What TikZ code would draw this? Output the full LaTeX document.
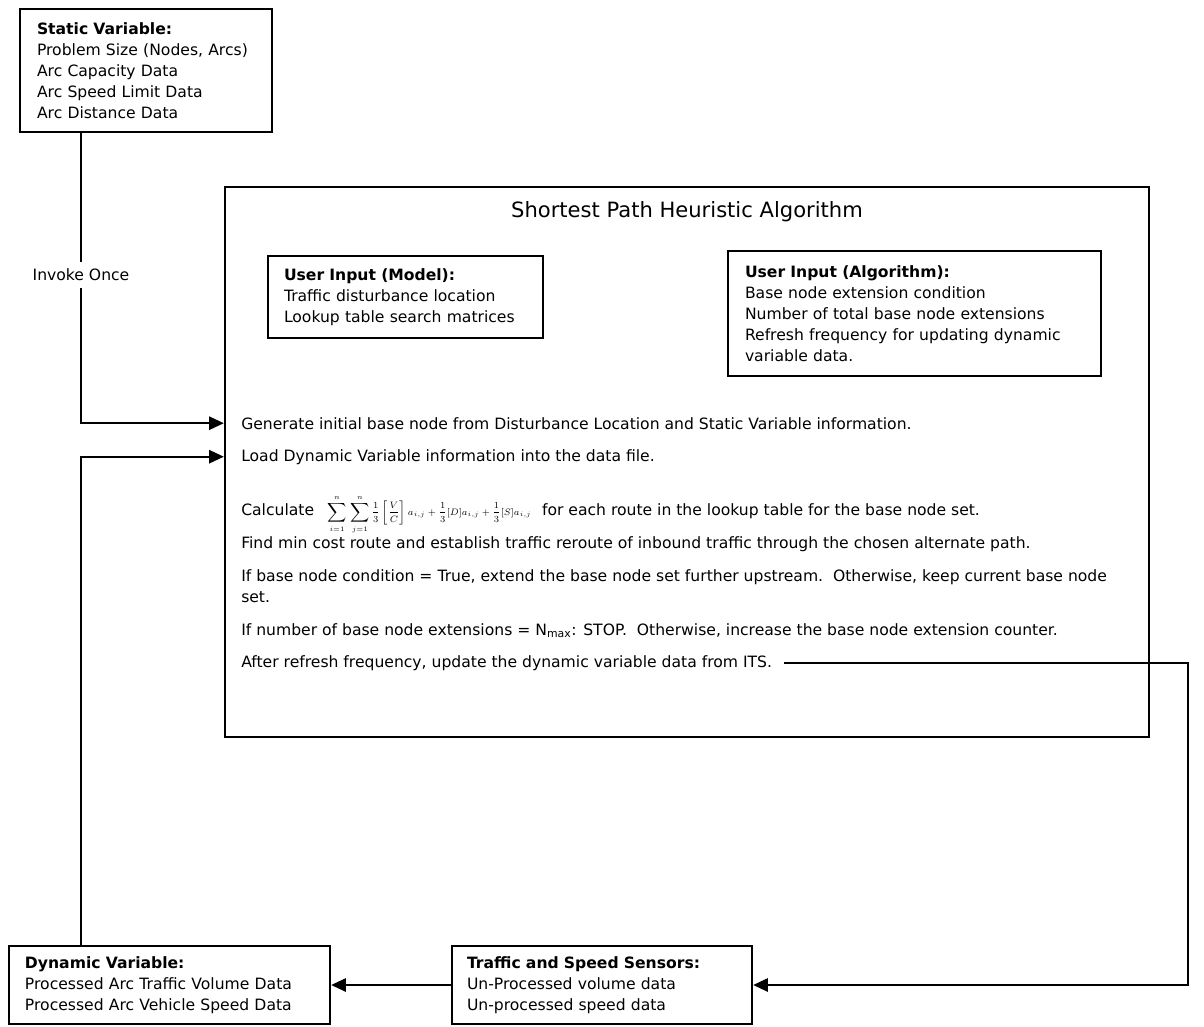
\documentclass[tikz,border=0pt]{standalone}
\usepackage{fontspec}
\setmainfont{DejaVu Sans}
\usetikzlibrary{arrows.meta}
\newcommand\bodyfont{\fontsize{11.7}{15.75}\selectfont}
\begin{document}
\begin{tikzpicture}[x=0.75pt,y=-0.75pt,
  box/.style={draw,line width=1.8pt,align=left,inner ysep=0pt,font=\bodyfont},
  conn/.style={line width=1.3pt},
  arr/.style={conn,-{Triangle[length=11pt,width=10pt]}},
  txt/.style={anchor=base west,inner sep=0pt,font=\bodyfont}]
\useasboundingbox (0,0) rectangle (1204,1026);

% boxes
\node[box,minimum width=189pt,minimum height=92.25pt,text width=163.5pt,inner xsep=12.75pt] (static) at (146,70.5)
  {\textbf{Static Variable:}\\Problem Size (Nodes, Arcs)\\Arc Capacity Data\\Arc Speed Limit Data\\Arc Distance Data};
\node[box,minimum width=693pt,minimum height=412.5pt] (main) at (687,462) {};
\node[font=\fontsize{15.8}{18}\selectfont,inner sep=0pt] (title) at (687,212) {Shortest Path Heuristic Algorithm};
\node[box,minimum width=206.25pt,minimum height=61.5pt,text width=182.25pt,inner xsep=12pt] (model) at (405.5,297)
  {\textbf{User Input (Model):}\\Traffic disturbance location\\Lookup table search matrices};
\node[box,minimum width=279.75pt,minimum height=93.75pt,text width=254.25pt,inner xsep=12.75pt] (algo) at (914.5,313.5)
  {\textbf{User Input (Algorithm):}\\Base node extension condition\\Number of total base node extensions\\Refresh frequency for updating dynamic\\variable data.};
\node[box,minimum width=240.75pt,minimum height=58.5pt,text width=216.75pt,inner xsep=12pt] (dynamic) at (169.5,985)
  {\textbf{Dynamic Variable:}\\Processed Arc Traffic Volume Data\\Processed Arc Vehicle Speed Data};
\node[box,minimum width=225pt,minimum height=58.5pt,text width=202.5pt,inner xsep=11.25pt] (sensors) at (602,985)
  {\textbf{Traffic and Speed Sensors:}\\Un-Processed volume data\\Un-processed speed data};

% algorithm steps
\node[txt] (gen) at (241,429) {Generate initial base node from Disturbance Location and Static Variable information.};
\node[txt] (load) at (241,461) {Load Dynamic Variable information into the data file.};
\node[txt] (calc) at (241,515) {Calculate\hspace{10pt}{\fontsize{7.5}{8}\selectfont$\displaystyle\sum\limits_{i=1}^{n}\,\sum\limits_{j=1}^{n}\frac{1}{3}\left[\frac{V}{C}\right]a_{i,j}+\frac{1}{3}[D]a_{i,j}+\frac{1}{3}[S]a_{i,j}$}\hspace{8pt}for each route in the lookup table for the base node set.};
\node[txt] (find) at (241,548) {Find min cost route and establish traffic reroute of inbound traffic through the chosen alternate path.};
\node[txt] (ifb) at (241,581) {If base node condition = True, extend the base node set further upstream.\ \ Otherwise, keep current base node};
\node[txt] (ifb2) at (241,602) {set.};
\node[txt] (nmax) at (241,635) {If number of base node extensions = N\textsubscript{max}: STOP.\ \ Otherwise, increase the base node extension counter.};
\node[txt] (ref) at (241,667) {After refresh frequency, update the dynamic variable data from ITS.};

\node[font=\bodyfont,fill=white,inner xsep=1pt,inner ysep=5pt] (inv) at (81,275) {Invoke Once};
\coordinate (rc) at (1188,0);

% connectors
\draw[conn] (inv |- static.south) -- (inv.north);
\draw[arr] (inv.south) -- (inv |- gen) -- (main.west |- gen);
\draw[arr] (inv |- dynamic.north) -- (inv |- load) -- (main.west |- load);
\draw[arr] ([xshift=9pt]ref.east) -- (ref.east -| rc) -- (rc |- sensors.east) -- (sensors.east);
\draw[arr] (sensors.west) -- (dynamic.east);
\end{tikzpicture}
\end{document}
